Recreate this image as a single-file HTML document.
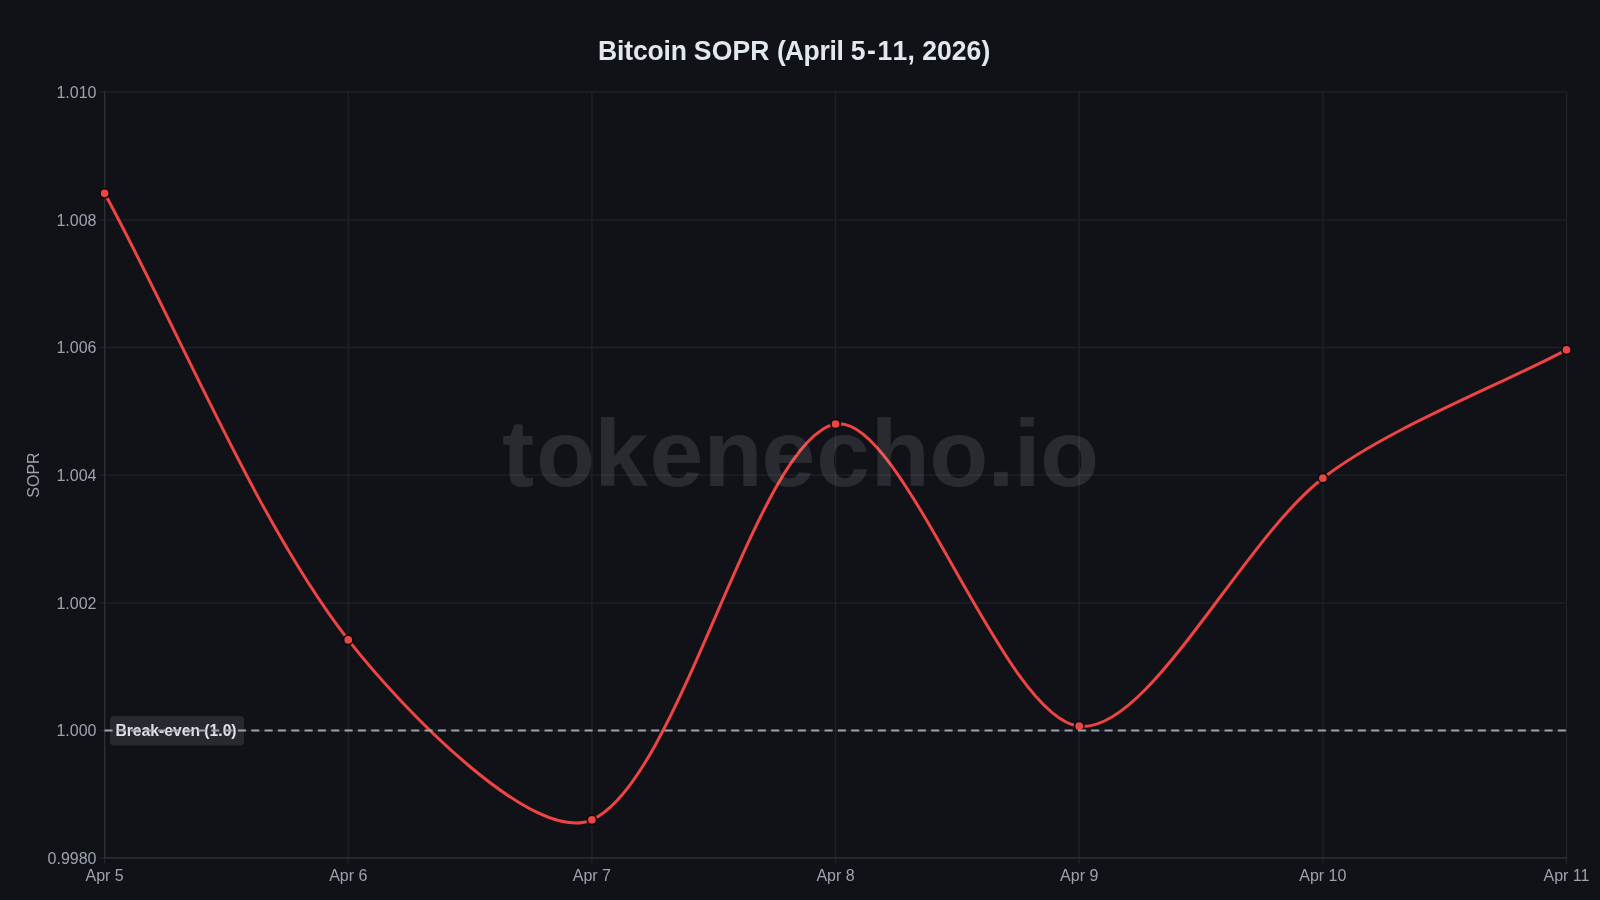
<!DOCTYPE html>
<html><head><meta charset="utf-8"><title>Bitcoin SOPR (April 5-11, 2026)</title>
<style>html,body{margin:0;padding:0;background:#111218;width:1600px;height:900px;overflow:hidden}svg{display:block;will-change:transform}</style>
</head><body>
<svg width="1600" height="900" viewBox="0 0 1600 900">
<rect width="1600" height="900" fill="#111218"/>
<g stroke="#202228" stroke-width="1.33"><line x1="99" y1="91.80" x2="1566.50" y2="91.80"/><line x1="99" y1="219.87" x2="1566.50" y2="219.87"/><line x1="99" y1="347.53" x2="1566.50" y2="347.53"/><line x1="99" y1="475.20" x2="1566.50" y2="475.20"/><line x1="99" y1="602.87" x2="1566.50" y2="602.87"/><line x1="99" y1="730.53" x2="1566.50" y2="730.53"/><line x1="99" y1="857.80" x2="1566.50" y2="857.80"/><line x1="104.60" y1="91.80" x2="104.60" y2="863.7"/><line x1="348.25" y1="91.80" x2="348.25" y2="863.7"/><line x1="591.90" y1="91.80" x2="591.90" y2="863.7"/><line x1="835.55" y1="91.80" x2="835.55" y2="863.7"/><line x1="1079.20" y1="91.80" x2="1079.20" y2="863.7"/><line x1="1322.85" y1="91.80" x2="1322.85" y2="863.7"/><line x1="1566.50" y1="91.80" x2="1566.50" y2="863.7"/></g>
<g stroke="#2e3037" stroke-width="1.33"><line x1="104.6" y1="91.2" x2="104.6" y2="858.4"/><line x1="104.0" y1="857.8" x2="1567.1" y2="857.8"/></g>
<g font-family="Liberation Sans, Arial, sans-serif" font-size="16" fill="#9ca3af"><text x="96.5" y="98.00" text-anchor="end">1.010</text><text x="96.5" y="225.67" text-anchor="end">1.008</text><text x="96.5" y="353.33" text-anchor="end">1.006</text><text x="96.5" y="481.00" text-anchor="end">1.004</text><text x="96.5" y="608.67" text-anchor="end">1.002</text><text x="96.5" y="736.33" text-anchor="end">1.000</text><text x="96.5" y="864.00" text-anchor="end">0.9980</text><text x="104.60" y="881" text-anchor="middle">Apr 5</text><text x="348.25" y="881" text-anchor="middle">Apr 6</text><text x="591.90" y="881" text-anchor="middle">Apr 7</text><text x="835.55" y="881" text-anchor="middle">Apr 8</text><text x="1079.20" y="881" text-anchor="middle">Apr 9</text><text x="1322.85" y="881" text-anchor="middle">Apr 10</text><text x="1566.50" y="881" text-anchor="middle">Apr 11</text><text transform="translate(39.3,475) rotate(-90)" text-anchor="middle">SOPR</text></g>
<text transform="translate(597.8,59.6) scale(1,1.055)" x="0" y="0" font-family="Liberation Sans, Arial, sans-serif" font-weight="bold" font-size="26.55" fill="#e2e8f0" xml:space="preserve"><tspan dx="0.30">B</tspan><tspan dx="-0.20">i</tspan><tspan dx="-0.10">t</tspan><tspan dx="-0.20">c</tspan><tspan dx="-0.20">o</tspan><tspan dx="-0.20">i</tspan><tspan dx="-0.10">n</tspan><tspan dx="-0.30"> </tspan><tspan dx="-0.25">S</tspan><tspan dx="0.15">O</tspan><tspan dx="0.10">P</tspan><tspan dx="0.10">R</tspan><tspan dx="0.10"> </tspan><tspan dx="0.15">(</tspan><tspan dx="-1.20">A</tspan><tspan dx="-0.35">p</tspan><tspan dx="-0.30">r</tspan><tspan dx="-0.30">i</tspan><tspan dx="-0.30">l</tspan><tspan dx="-0.20"> </tspan><tspan dx="-0.20">5</tspan><tspan dx="1.30">-</tspan><tspan dx="1.70">1</tspan><tspan dx="0.20">1</tspan><tspan dx="0.30">,</tspan><tspan dx="0.00"> </tspan><tspan dx="0.00">2</tspan><tspan dx="0.00">0</tspan><tspan dx="0.00">2</tspan><tspan dx="0.00">6</tspan><tspan dx="0.20">)</tspan></text>
<rect x="110" y="716" width="134" height="29.5" rx="4" fill="#27292f"/>
<text x="115.4" y="736.2" font-family="Liberation Sans, Arial, sans-serif" font-weight="bold" font-size="15.7" fill="#dde1e7">Break-even (1.0)</text>
<path d="M104.60,193.30 C177.69,327.28 256.61,522.09 348.25,639.90 C402.80,710.04 534.22,845.35 591.90,819.80 C680.41,780.58 755.89,439.30 835.55,424.00 C902.08,411.22 1002.08,717.62 1079.20,726.20 C1148.27,733.88 1241.28,541.21 1322.85,478.20 C1387.47,428.29 1493.41,388.32 1566.50,349.80" fill="none" stroke="#ef4444" stroke-width="3" stroke-linejoin="round"/>
<circle cx="104.60" cy="193.3" r="4.7" fill="#ef4444" stroke="#080a0f" stroke-width="1.7"/>
<circle cx="348.25" cy="639.9" r="4.7" fill="#ef4444" stroke="#080a0f" stroke-width="1.7"/>
<circle cx="591.90" cy="819.8" r="4.7" fill="#ef4444" stroke="#080a0f" stroke-width="1.7"/>
<circle cx="835.55" cy="424.0" r="4.7" fill="#ef4444" stroke="#080a0f" stroke-width="1.7"/>
<circle cx="1079.20" cy="726.2" r="4.7" fill="#ef4444" stroke="#080a0f" stroke-width="1.7"/>
<circle cx="1322.85" cy="478.2" r="4.7" fill="#ef4444" stroke="#080a0f" stroke-width="1.7"/>
<circle cx="1566.50" cy="349.8" r="4.7" fill="#ef4444" stroke="#080a0f" stroke-width="1.7"/>
<line x1="104.6" y1="730.4" x2="1566.5" y2="730.4" stroke="#9ca3af" stroke-width="2" stroke-dasharray="8 5.333"/>
<text transform="translate(0,486.2) scale(1,0.973)" x="502.0" y="0" font-family="Liberation Sans, Arial, sans-serif" font-weight="bold" font-size="96.7" fill="rgb(240,244,255)" fill-opacity="0.11"><tspan dx="0.0">t</tspan><tspan dx="1.9">o</tspan><tspan dx="-0.9">k</tspan><tspan dx="1.4">e</tspan><tspan dx="0.2">n</tspan><tspan dx="-1.0">e</tspan><tspan dx="1.0">c</tspan><tspan dx="0.7">h</tspan><tspan dx="-0.6">o</tspan><tspan dx="-0.8">.</tspan><tspan dx="-0.6">i</tspan><tspan dx="-0.6">o</tspan></text>
</svg>
</body></html>
